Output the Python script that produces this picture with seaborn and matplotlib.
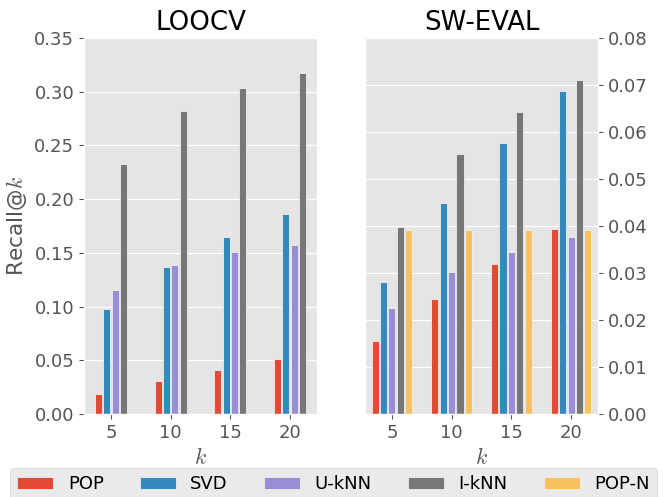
import matplotlib
matplotlib.use('Agg')
import matplotlib.pyplot as plt
from matplotlib.patches import Patch
import seaborn as sns
import pandas as pd

plt.style.use('ggplot')
plt.rcParams.update({'font.size': 13, 'mathtext.fontset': 'cm', 'font.family': ['DejaVu Sans']})

ks = ['5', '10', '15', '20']
methods = ['POP', 'SVD', 'U-kNN', 'I-kNN', 'POP-N']
colors = ['#E24A33', '#348ABD', '#988ED5', '#777777', '#FBC15E']

# LOOCV Recall@k
loocv_pop = [0.0186, 0.0310, 0.0406, 0.0514]
loocv_svd = [0.0979, 0.1372, 0.1645, 0.1862]
loocv_uknn = [0.1155, 0.1390, 0.1505, 0.1577]
loocv_iknn = [0.2329, 0.2822, 0.3038, 0.3172]

# SW-EVAL Recall@k
sw_pop = [0.0156, 0.0244, 0.0320, 0.0393]
sw_svd = [0.0281, 0.0450, 0.0577, 0.0687]
sw_uknn = [0.0225, 0.0303, 0.0344, 0.0376]
sw_iknn = [0.0398, 0.0553, 0.0643, 0.0711]
sw_popn = [0.0391, 0.0391, 0.0391, 0.0391]

def long_df(series):
    rows = []
    for m, vals in series.items():
        for k, v in zip(ks, vals):
            rows.append({'k': k, 'method': m, 'recall': v})
    return pd.DataFrame(rows)

df_l = long_df({'POP': loocv_pop, 'SVD': loocv_svd, 'U-kNN': loocv_uknn, 'I-kNN': loocv_iknn})
df_s = long_df({'POP': sw_pop, 'SVD': sw_svd, 'U-kNN': sw_uknn, 'I-kNN': sw_iknn, 'POP-N': sw_popn})

fig = plt.figure(figsize=(6.67, 4.97), dpi=100)
ax1 = fig.add_axes([84/667, 1-414/497, 233/667, 376/497])
ax2 = fig.add_axes([365/667, 1-414/497, 233/667, 376/497])

sns.barplot(data=df_l, x='k', y='recall', hue='method', hue_order=methods[:4], order=ks,
            palette=colors[:4], width=0.56, gap=0.15, saturation=1, errorbar=None,
            edgecolor='#EEEEEE', linewidth=0.6, legend=False, ax=ax1)
sns.barplot(data=df_s, x='k', y='recall', hue='method', hue_order=methods, order=ks,
            palette=colors, width=0.70, gap=0.15, saturation=1, errorbar=None,
            edgecolor='#EEEEEE', linewidth=0.6, legend=False, ax=ax2)

ax1.set_ylim(0, 0.35)
ax1.set_yticks([0, 0.05, 0.10, 0.15, 0.20, 0.25, 0.30, 0.35])
ax1.set_yticklabels(['%.2f' % v for v in ax1.get_yticks()])
ax1.set_title('LOOCV', fontsize=18.7)
ax1.set_ylabel('Recall@$k$', fontsize=15.6)
ax1.set_xlabel('$k$', fontsize=15.6)

ax2.set_ylim(0, 0.08)
ax2.set_yticks([0, 0.01, 0.02, 0.03, 0.04, 0.05, 0.06, 0.07, 0.08])
ax2.set_yticklabels(['%.2f' % v for v in ax2.get_yticks()])
ax2.yaxis.tick_right()
ax2.set_title('SW-EVAL', fontsize=18.7)
ax2.set_ylabel('')
ax2.set_xlabel('$k$', fontsize=15.6)

for ax in (ax1, ax2):
    ax.set_xlim(-0.45, 3.45)
    ax.tick_params(labelsize=13, colors='#555555')

handles = [Patch(facecolor=c, edgecolor='#EEEEEE', linewidth=0.6, label=m) for m, c in zip(methods, colors)]
fig.legend(handles=handles, loc='upper left', bbox_to_anchor=(10/667, 1-468/497), ncol=5,
           fontsize=13, borderaxespad=0, frameon=True)

fig.savefig('out.png', dpi=100)
